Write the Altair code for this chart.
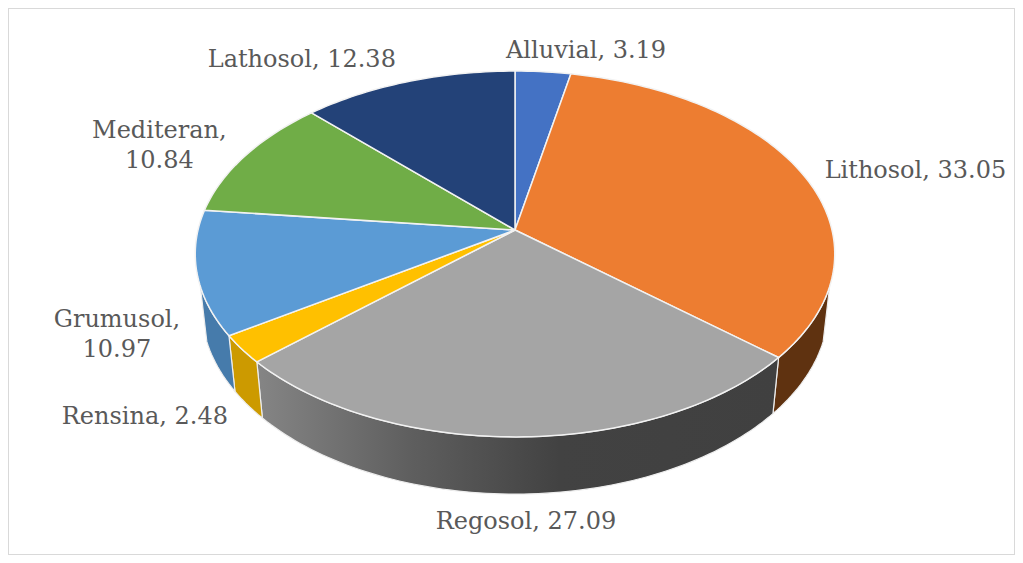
import math
import altair as alt
import pandas as pd

SOILS = ["Alluvial", "Lithosol", "Regosol", "Rensina", "Grumusol", "Mediteran", "Lathosol"]
VALUES = [3.19, 33.05, 27.09, 2.48, 10.97, 10.84, 12.38]
TOP_COLORS = ["#4472C4", "#ED7D31", "#A5A5A5", "#FFC000", "#5B9BD5", "#70AD47", "#234278"]
WALL_COLORS = [None, "#5F3210", None, "#CC9A00", "#467BAB", None, None]
LABELS = ["Alluvial, 3.19", "Lithosol, 33.05", "Regosol, 27.09", "Rensina, 2.48",
          "Grumusol,\n10.97", "Mediteran,\n10.84", "Lathosol, 12.38"]
# label nudges (px) from the slice's rim midpoint
LABEL_DX = [43, 113, 6, -97, -80, -86, -106]
LABEL_DY = [-21, -3, 85, 68, 47, -25, -22]

FONT = "DejaVu Serif"
W, H = 1007, 547
APEX_X, APEX_Y = 507, 222      # apex inside the plot area, px
RX, RY = 317.0, 179.8          # px per unit of the tilted disc
TILT = 0.131                   # perspective foreshortening
DEPTH = 55 / RY                # pie thickness
DEPTH_W = 0.02
WALL_FROM, WALL_TO = 29.9, 70.1  # share of the circle where the side is visible

def rim(pct, lower=False):
    t = pct / 100 * 2 * math.pi
    u, v = math.sin(t), math.cos(t)
    w = 1 + TILT * v + (DEPTH_W if lower else 0)
    return u / w, (v - (DEPTH if lower else 0)) / w

def sweep(a, b):
    n = max(2, int((b - a) * 3))
    return [a + (b - a) * i / n for i in range(n + 1)]

x_scale = alt.Scale(domain=[-APEX_X / RX, (W - APEX_X) / RX], nice=False, zero=False)
y_scale = alt.Scale(domain=[-(H - APEX_Y) / RY, APEX_Y / RY], nice=False, zero=False)

def poly(points, **mark):
    df = pd.DataFrame({"x": [p[0] for p in points], "y": [p[1] for p in points],
                       "i": list(range(len(points)))})
    return alt.Chart(df).mark_line(**mark).encode(
        x=alt.X("x:Q", scale=x_scale, axis=None),
        y=alt.Y("y:Q", scale=y_scale, axis=None),
        order="i:Q",
    )

grey_wall = alt.Gradient(
    gradient="linear", x1=0, y1=0, x2=1, y2=0,
    stops=[alt.GradientStop(offset=0, color="#858585"),
           alt.GradientStop(offset=0.3, color="#5E5E5E"),
           alt.GradientStop(offset=0.58, color="#424242"),
           alt.GradientStop(offset=1, color="#404040")],
)

starts = [sum(VALUES[:i]) for i in range(len(VALUES))]
ends = [s + v for s, v in zip(starts, VALUES)]

layers = []
# side walls
for s, e, wc in zip(starts, ends, WALL_COLORS):
    a, b = max(s, WALL_FROM), min(e, WALL_TO)
    if a >= b:
        continue
    pts = [rim(p) for p in sweep(a, b)] + [rim(p, True) for p in reversed(sweep(a, b))]
    pts.append(pts[0])
    layers.append(poly(pts, fill=wc if wc else grey_wall, stroke="#EDEDED", strokeWidth=1.2,
                       interpolate="linear"))
# top faces
for s, e, c in zip(starts, ends, TOP_COLORS):
    pts = [(0.0, 0.0)] + [rim(p) for p in sweep(s, e)] + [(0.0, 0.0)]
    layers.append(poly(pts, fill=c, stroke="#F2F2F2", strokeWidth=1.5, interpolate="linear"))
# labels
for s, e, lab, dx, dy in zip(starts, ends, LABELS, LABEL_DX, LABEL_DY):
    mx, my = rim((s + e) / 2)
    df = pd.DataFrame({"x": [mx], "y": [my], "t": [lab]})
    layers.append(alt.Chart(df).mark_text(
        font=FONT, fontSize=24, color="#595959", align="center", baseline="middle",
        lineBreak="\n", lineHeight=30, dx=dx, dy=dy,
    ).encode(
        x=alt.X("x:Q", scale=x_scale, axis=None),
        y=alt.Y("y:Q", scale=y_scale, axis=None),
        text="t:N",
    ))

chart = alt.layer(*layers).properties(
    width=W, height=H, padding=0, autosize=alt.AutoSizeParams(type="none"),
    background="white",
).configure_view(stroke="#D9D9D9", strokeWidth=2)

chart.save("out.html", embed_options={"renderer": "svg", "actions": False})
